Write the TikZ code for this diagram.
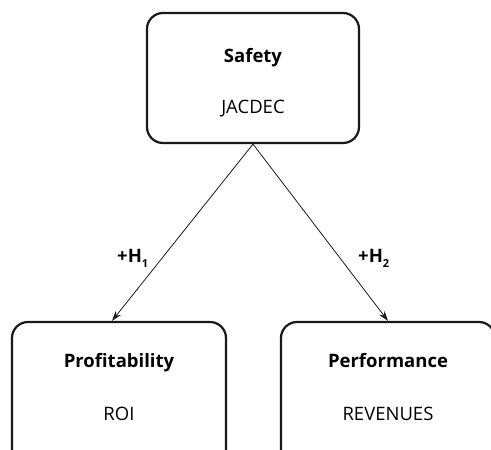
\documentclass[tikz,border=0pt]{standalone}
\usepackage{fontspec}
\setmainfont{Open Sans}
\usetikzlibrary{arrows.meta}
\begin{document}
\begin{tikzpicture}[x=1pt,y=-1pt,
  box/.style={draw=black!90,line width=2.2pt,rounded corners=16pt,inner sep=0pt},
  title/.style={font=\fontsize{18.5}{22}\selectfont\bfseries,anchor=base,inner sep=0pt},
  sub/.style={font=\fontsize{18.5}{22}\selectfont,anchor=base,inner sep=0pt},
  lab/.style={font=\fontsize{18.5}{22}\selectfont\bfseries,anchor=base west,inner sep=0pt},
  arr/.style={-{Stealth[length=10pt,width=6.5pt]},line width=0.8pt,black!90}]
\useasboundingbox (0,0) rectangle (491,450);
\clip (0,0) rectangle (491,450);
\node[box,minimum width=212pt,minimum height=130pt] (top) at (253,78) {};
\node[box,minimum width=214pt,minimum height=148pt] (left) at (119,396) {};
\node[box,minimum width=214pt,minimum height=148pt] (right) at (388,396) {};
\node[title] (t1) at (253,62) {Safety};
\node[sub] (s1) at (253,113) {JACDEC};
\node[title] (t2) at (119,367) {Profitability};
\node[sub] (s2) at (119,420) {ROI};
\node[title] (t3) at (388,367) {Performance};
\node[sub] (s3) at (388,420) {REVENUES};
\draw[arr] (top.south) -- ([xshift=-7pt]left.north);
\draw[arr] (top.south) -- (right.north);
\node[lab] (h1) at (117,262) {+H\raisebox{-5pt}{\fontsize{11}{13}\selectfont 1}};
\node[lab] (h2) at (358,262) {+H\raisebox{-5pt}{\fontsize{11}{13}\selectfont 2}};
\end{tikzpicture}
\end{document}
